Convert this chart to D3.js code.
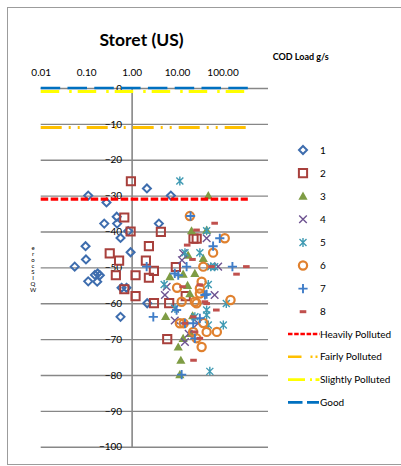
<!DOCTYPE html>
<html><head><meta charset="utf-8">
<script src="https://cdn.jsdelivr.net/npm/d3@7"></script>
<style>
html,body{margin:0;padding:0;background:#fff;}
svg{display:block;font-family:Lato,"Liberation Sans",sans-serif;}
</style></head>
<body>
<svg id="chart" width="401" height="466"></svg>
<script>
// ---------- DATA ----------
const chartTitle = "Storet (US)";
const xAxisTitle = "COD Load g/s";
const yAxisTitle = "WQI Score";
const xTickValues = [0.01, 0.1, 1, 10, 100];
const xTickLabels = ["0.01", "0.10", "1.00", "10.00", "100.00"];
const yTickValues = [0, -10, -20, -30, -40, -50, -60, -70, -80, -90, -100];

const seriesNames = ["1", "2", "3", "4", "5", "6", "7", "8"];
const s1 = [[0.111,-30],[0.28,-31.9],[2.17,-28],[7.3,-30],[0.47,-35.9],[0.25,-37.8],[0.48,-37.8],[0.84,-39.9],[0.57,-41.8],[3.98,-37.8],[0.95,-45.8],[0.097,-44.1],[0.099,-47.8],[0.056,-49.8],[0.156,-52.1],[0.179,-51.7],[0.2,-52.2],[0.111,-53.9],[0.175,-54],[0.6,-55.7],[0.77,-55.7],[0.57,-63.8],[2.2,-60]];
const s2 = [[0.965,-26],[0.69,-36.1],[0.95,-40],[4.4,-40.1],[2.4,-44.1],[0.33,-46.1],[0.53,-48.1],[2.06,-48.1],[3.09,-51],[0.45,-52.2],[1.22,-52.2],[2.4,-52.9],[9.4,-49.9],[0.69,-56.1],[1.22,-58],[23,-42],[27,-42],[15.5,-58],[3.1,-60],[6.7,-60],[6.07,-70]];
const s3 = [[48.6,-30],[20.8,-39.8],[44.7,-39.6],[17.5,-46.6],[37.7,-47.5],[6.95,-52.6],[13.6,-51.9],[24.6,-51.7],[19.1,-57.3],[5.6,-63.7],[22,-63.5],[19.8,-68.4],[13.6,-69.8],[10.6,-72.2],[12.1,-75.9],[11.5,-79.9],[17,-55]];
const s4 = [[44.7,-41.9],[80,-49.8],[5.9,-55.4],[67,-57.7],[12.8,-48],[5.4,-57.7],[13.6,-46.1],[9,-61.5],[8.9,-64.8],[14.9,-70.8],[18,-68.5],[29,-65.6]];
const s5 = [[11.5,-25.9],[44.7,-39.8],[31.7,-45.9],[14.9,-45.9],[5.2,-54.8],[48.6,-54.8],[55,-49.8],[67,-49.8],[44.7,-61.9],[121,-60.1],[104,-66.1],[44.7,-63.3],[48.6,-66.1],[24.6,-63.8],[52.5,-79],[9,-61.5]];
const s6 = [[19.1,-35.7],[112,-41.9],[62,-45.9],[37.7,-49.8],[34.7,-54],[10,-55.7],[31.7,-55.9],[150,-59.1],[12.6,-59.6],[24.6,-59.6],[26.8,-60],[31.7,-57.3],[11.5,-65.6],[14,-65.6],[37.7,-65.5],[44.7,-68],[75,-68],[26.8,-69.8],[34.7,-72.2],[22.6,-68]];
const s7 = [[19.8,-35.7],[62,-44.1],[87,-41.9],[165,-49.8],[2.14,-49.8],[10.6,-52.2],[16.2,-49.8],[44.7,-57.5],[3,-63.8],[12.6,-79.9],[41,-57.7],[22.6,-65.6],[9.75,-61.9],[24.6,-69.8],[8.9,-51.7],[31.7,-64.2],[14.9,-65.6]];
const s8 = [[67,-37.7],[26.8,-39.6],[16.7,-43.8],[21.8,-47.8],[334,-49.8],[203,-51.9],[57,-49.8],[13.2,-55.4],[31.7,-54.9],[41,-59.6],[73,-61.9],[22.6,-63.8],[14.9,-65.6],[44.7,-60.1],[23,-75.9],[24.6,-68],[31.7,-69.8]];
const seriesData = [s1, s2, s3, s4, s5, s6, s7, s8];

const thresholdNames = ["Heavily Polluted", "Fairly Polluted", "Slightly Polluted", "Good"];
const thresholdValues = [-31, -11, -1, 0];
const thresholdXRange = [0.01, 360];

// ---------- STYLE ----------
const seriesColors = ["#3E6DAE", "#A8403C", "#7E9C44", "#6E5391", "#3F9AB3", "#E0812F", "#3F7DC8", "#C0504D"];
const seriesShapes = ["diamond", "square", "triangle", "x", "asterisk", "circle", "plus", "dash"];
const lineColors = ["#FF0000", "#FFC000", "#FFFF00", "#0070C0"];
const lineDash = ["7.5,2.5", "21,7,2,7,2,7", "18.5,10,2.5,6", "19.5,7.3"];
const lineWidths = [3.2, 3, 3, 2.6];
const legendLineDash = ["4.5,1.7", "13.5,9,2,3,2,3", "17,5,2,3.5,6", "14.5,4.5,12"];

const svg = d3.select("#chart");
const x = d3.scaleLog().domain([0.01, 1000]).range([40.7, 268]);
const y = d3.scaleLinear().domain([0, -100]).range([88, 446.7]);
const yAxisX = x(1);
const gridColor = "#878787";

// outer border
svg.append("rect").attr("x", 7.5).attr("y", 7.5).attr("width", 400).attr("height", 457)
  .attr("fill", "none").attr("stroke", "#9c9c9c").attr("stroke-width", 1);

// title
svg.append("text").attr("x", 141.5).attr("y", 45.5).attr("text-anchor", "middle")
  .attr("font-size", 17.5).attr("font-weight", 700).attr("fill", "#000").text(chartTitle);
svg.append("text").attr("x", 272.7).attr("y", 59.5)
  .attr("font-size", 9).attr("font-weight", 700).attr("fill", "#000").text(xAxisTitle);

// gridlines
const grid = svg.append("g").attr("transform", `translate(${x.range()[1]},0)`)
  .call(d3.axisLeft(y).tickValues(yTickValues).tickSize(x.range()[1] - x.range()[0]).tickFormat(""));
grid.select(".domain").remove();
grid.selectAll(".tick line").attr("stroke", gridColor).attr("stroke-width", 1.4);

// vertical axis at x = 1
const yAx = svg.append("g").attr("transform", `translate(${yAxisX},0)`)
  .call(d3.axisLeft(y).tickValues(yTickValues).tickSize(0).tickPadding(9.5).tickFormat(d3.format("d")));
yAx.select(".domain").attr("stroke", gridColor).attr("stroke-width", 1.6);
yAx.selectAll("text").attr("font-family", "Lato, 'Liberation Sans', sans-serif").attr("font-size", 10).attr("fill", "#000");

// top x axis labels
const xAx = svg.append("g").attr("transform", `translate(0,${y(0)})`)
  .call(d3.axisTop(x).tickValues(xTickValues).tickSize(0).tickPadding(12)
    .tickFormat((d, i) => xTickLabels[i]));
xAx.select(".domain").remove();
xAx.selectAll("text").attr("font-family", "Lato, 'Liberation Sans', sans-serif").attr("font-size", 10).attr("fill", "#000");

// y axis title (stacked characters, read bottom to top)
const yt = svg.append("text").attr("font-size", 6).attr("fill", "#000").attr("text-anchor", "middle");
const chars = yAxisTitle.replace(" ", "").split("").reverse();
chars.forEach((c, i) => {
  yt.append("tspan").attr("x", 33).attr("y", 250 + i * 6).text(c);
});

// marker generator
function markerPath(shape) {
  switch (shape) {
    case "diamond": return "M0,-4L4,0L0,4L-4,0Z";
    case "square": return "M-4.1,-4.1H4.1V4.1H-4.1Z";
    case "triangle": return "M0,-4.6L4.6,3.6H-4.6Z";
    case "x": return "M-3.8,-3.8L3.8,3.8M-3.8,3.8L3.8,-3.8";
    case "asterisk": return "M-3.5,-3.5L3.5,3.5M-3.5,3.5L3.5,-3.5M0,-4.5V4.5";
    case "circle": return "M4.1,0A4.1,4.1 0 1,1 -4.1,0A4.1,4.1 0 1,1 4.1,0Z";
    case "plus": return "M-4.6,0H4.6M0,-4.6V4.6";
    case "dash": return "M-3.3,-1.5H3.3V1.5H-3.3Z";
  }
}
function styleMarker(sel, i) {
  const shape = seriesShapes[i], col = seriesColors[i];
  if (shape === "triangle" || shape === "dash") {
    sel.attr("fill", col).attr("stroke", "none");
  } else {
    const w = {diamond: 2, square: 2, circle: 2.2, x: 1.4, asterisk: 1.4, plus: 1.9}[shape];
    sel.attr("fill", "none").attr("stroke", col).attr("stroke-width", w);
  }
}

// points
seriesData.forEach((data, i) => {
  const g = svg.append("g");
  g.selectAll("path").data(data).enter().append("path")
    .attr("transform", d => `translate(${x(d[0])},${y(d[1])})`)
    .attr("d", markerPath(seriesShapes[i]))
    .call(styleMarker, i);
});

// threshold lines
const lineGen = d3.line().x(d => x(d[0])).y(d => y(d[1]));
thresholdValues.forEach((v, i) => {
  svg.append("path")
    .datum(thresholdXRange.map(xv => [xv, v]))
    .attr("d", lineGen)
    .attr("fill", "none").attr("stroke", lineColors[i])
    .attr("stroke-width", lineWidths[i]).attr("stroke-dasharray", lineDash[i]);
});

// legend
const legend = svg.append("g");
seriesNames.forEach((name, i) => {
  const yy = 150 + i * 23.1;
  legend.append("path").attr("transform", `translate(303,${yy})`)
    .attr("d", markerPath(seriesShapes[i])).call(styleMarker, i);
  legend.append("text").attr("x", 320).attr("y", yy).attr("dy", "0.35em")
    .attr("font-size", 10).attr("fill", "#000").text(name);
});
thresholdNames.forEach((name, i) => {
  const yy = 334 + i * 22.8;
  legend.append("line").attr("x1", 288).attr("x2", 319.5).attr("y1", yy).attr("y2", yy)
    .attr("stroke", lineColors[i]).attr("stroke-width", 2.6).attr("stroke-dasharray", legendLineDash[i]);
  legend.append("text").attr("x", 320).attr("y", yy).attr("dy", "0.35em")
    .attr("font-size", 10).attr("fill", "#000").text(name);
});
</script>
</body></html>
